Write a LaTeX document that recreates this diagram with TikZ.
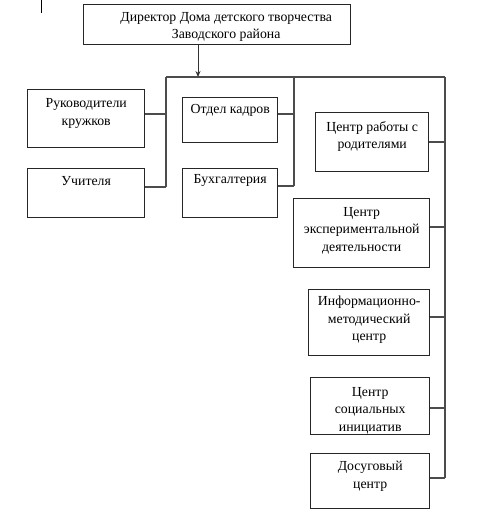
\documentclass[tikz,border=0pt]{standalone}
\usepackage{fontspec}
\setmainfont{Liberation Serif}
\usetikzlibrary{arrows.meta}
\begin{document}
\begin{tikzpicture}[x=1pt,y=-1pt,
  box/.style={draw=black!85,line width=1.4pt,inner sep=0pt,anchor=north west},
  lbl/.style={inner sep=0pt,anchor=north,align=center,font=\fontsize{13.8}{17.5}\selectfont},
  conn/.style={draw=black!70,line width=1.4pt}]
\useasboundingbox (0,0) rectangle (479,514);
\fill[white] (0,0) rectangle (479,514);
% boxes
\node[box,minimum width=267pt,minimum height=40pt] (dir) at (83,4) {};
\node[box,minimum width=117pt,minimum height=58pt] (rk) at (27,89) {};
\node[box,minimum width=117pt,minimum height=49pt] (uch) at (27,168) {};
\node[box,minimum width=95pt,minimum height=45pt] (ok) at (182,97) {};
\node[box,minimum width=95pt,minimum height=49pt] (buh) at (182,168) {};
\node[box,minimum width=113pt,minimum height=59pt] (crr) at (315,112) {};
\node[box,minimum width=136pt,minimum height=69pt] (exp) at (293,198) {};
\node[box,minimum width=121pt,minimum height=66pt] (inf) at (308,289) {};
\node[box,minimum width=119pt,minimum height=57pt] (soc) at (310,377) {};
\node[box,minimum width=119pt,minimum height=55pt] (dos) at (310,453) {};
% labels
\node[lbl] (tdir) at ([xshift=9pt,yshift=-8pt]dir.north) {Директор Дома детского творчества\\Заводского района};
\node[lbl] (trk) at ([yshift=-9.5pt]rk.north) {Руководители\\кружков};
\node[lbl] (tuch) at ([yshift=-8pt]uch.north) {Учителя};
\node[lbl] (tok) at ([yshift=-7pt]ok.north) {Отдел кадров};
\node[lbl] (tbuh) at ([yshift=-6pt]buh.north) {Бухгалтерия};
\node[lbl] (tcrr) at ([yshift=-9pt]crr.north) {Центр работы с\\родителями};
\node[lbl] (texp) at ([yshift=-9pt]exp.north) {Центр\\экспериментальной\\деятельности};
\node[lbl] (tinf) at ([yshift=-7pt]inf.north) {Информационно-\\методический\\центр};
\node[lbl] (tsoc) at ([yshift=-10pt]soc.north) {Центр\\социальных\\инициатив};
\node[lbl] (tdos) at ([yshift=-8pt]dos.north) {Досуговый\\центр};
% bus coordinates
\coordinate (bL) at (166,77);
\coordinate (bM) at (294,77);
\coordinate (bR) at (445,77);
\coordinate (a) at (198,77);
\coordinate (jrk) at (166,114);
\coordinate (juch) at (166,187);
\coordinate (jok) at (294,114);
\coordinate (jbuh) at (294,186);
\coordinate (jcrr) at (445,142);
\coordinate (jexp) at (445,227);
\coordinate (jinf) at (445,317);
\coordinate (jsoc) at (445,408);
\coordinate (jdos) at (445,478);
% connectors
\draw[conn] (bL) -- (bR);
\draw[conn] (bL) -- (juch);
\draw[conn] (bM) -- (jbuh);
\draw[conn] (bR) -- (jdos);
\draw[draw=black!80,line width=1pt,-{Stealth[length=6pt,width=5pt]}] (dir.south -| a) -- (a);
\draw[conn] (rk.east |- jrk) -- (jrk);
\draw[conn] (uch.east |- juch) -- (juch);
\draw[conn] (ok.east |- jok) -- (jok);
\draw[conn] (buh.east |- jbuh) -- (jbuh);
\draw[conn] (crr.east |- jcrr) -- (jcrr);
\draw[conn] (exp.east |- jexp) -- (jexp);
\draw[conn] (inf.east |- jinf) -- (jinf);
\draw[conn] (soc.east |- jsoc) -- (jsoc);
\draw[conn] (dos.east |- jdos) -- (jdos);
% stray mark at top left
\coordinate (m1) at (41.5,0);
\coordinate (m2) at (41.5,13);
\draw[black,line width=1.4pt] (m1) -- (m2);
\end{tikzpicture}
\end{document}
